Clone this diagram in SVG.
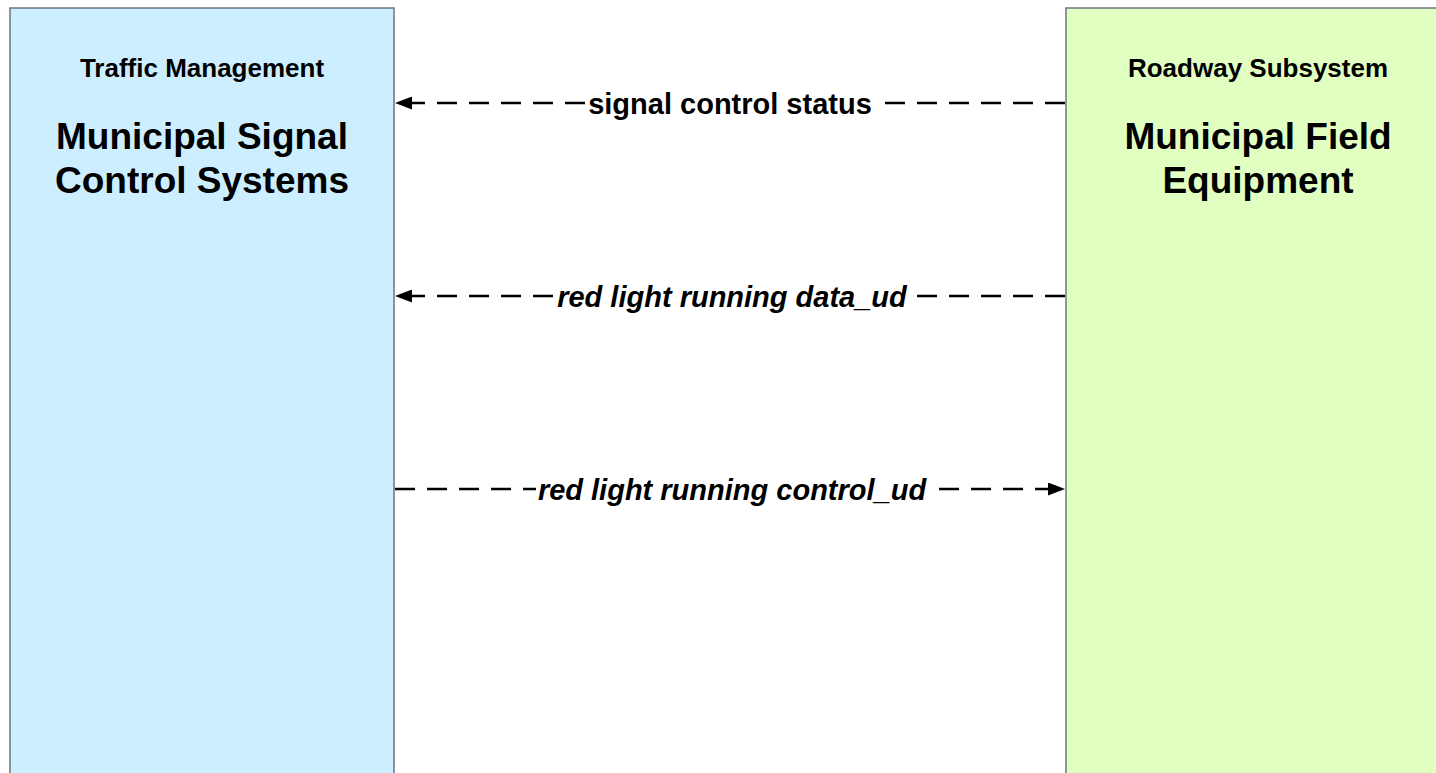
<svg xmlns="http://www.w3.org/2000/svg" width="1436" height="773" viewBox="0 0 1436 773">
<style>
.box{stroke:#6a7480;stroke-width:1.5}
.sub{font-family:"Liberation Sans",Arial,sans-serif;font-weight:bold;font-size:26px;fill:#000;text-anchor:middle}
.ttl{font-family:"Liberation Sans",Arial,sans-serif;font-weight:bold;font-size:37px;fill:#000;text-anchor:middle}
.flow{stroke:#000;stroke-width:2.5;stroke-dasharray:20 12;fill:none}
.lbl{font-family:"Liberation Sans",Arial,sans-serif;font-weight:bold;font-size:29px;fill:#000;text-anchor:middle}
.it{font-style:italic}
.bg{fill:#fff}
</style>
<defs>
<marker id="ah" viewBox="0 0 17 13" refX="17" refY="6.5" markerWidth="17" markerHeight="13" markerUnits="userSpaceOnUse" orient="auto">
<path d="M0,0 L17,6.5 L0,13 Z" fill="#000"/>
</marker>
</defs>
<rect width="1436" height="773" fill="#fff"/>
<g id="node-msc">
<rect class="box" x="10" y="8" width="384" height="800" fill="#cceeff"/>
<text class="sub" x="202" y="77">Traffic Management</text>
<text class="ttl" x="202" y="149">Municipal Signal</text>
<text class="ttl" x="202" y="193">Control Systems</text>
</g>
<g id="node-mfe">
<rect class="box" x="1066" y="8" width="384" height="800" fill="#e2ffc2"/>
<text class="sub" x="1258" y="77">Roadway Subsystem</text>
<text class="ttl" x="1258" y="149">Municipal Field</text>
<text class="ttl" x="1258" y="193">Equipment</text>
</g>
<g id="connectors">
<line class="flow" x1="1065" y1="103" x2="395" y2="103" marker-end="url(#ah)"/>
<rect class="bg" x="587" y="89" width="286" height="32"/>
<text class="lbl" x="730" y="114">signal control status</text>
<line class="flow" x1="1065" y1="296" x2="395" y2="296" marker-end="url(#ah)"/>
<rect class="bg" x="556" y="282" width="354" height="32"/>
<text class="lbl it" x="732" y="307">red light running data_ud</text>
<line class="flow" x1="395" y1="489" x2="1065" y2="489" marker-end="url(#ah)"/>
<rect class="bg" x="536" y="475" width="393" height="32"/>
<text class="lbl it" x="732" y="500">red light running control_ud</text>
</g>
</svg>
